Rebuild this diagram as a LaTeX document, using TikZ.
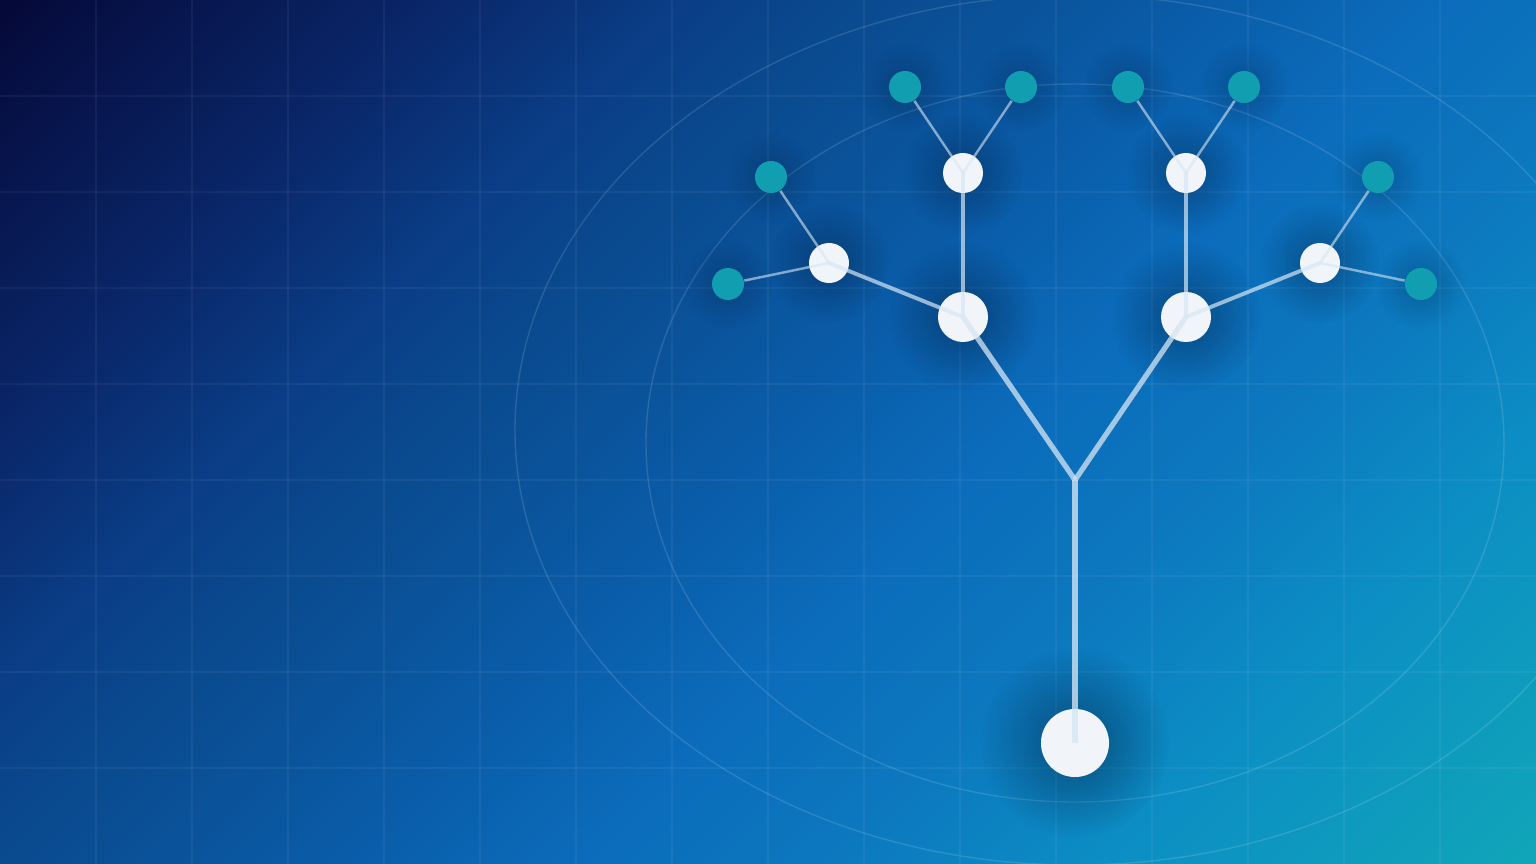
\documentclass[tikz,border=0pt]{standalone}
\usepackage{xcolor}
\usetikzlibrary{fadings,backgrounds}

\definecolor{bgnavy}{HTML}{050838}
\definecolor{bgink}{HTML}{0A2A6E}
\definecolor{bgdeep}{HTML}{0A3D85}
\definecolor{bgmarine}{HTML}{0A4A8E}
\definecolor{bgmid}{HTML}{0A5CA8}
\definecolor{bgblue}{HTML}{0B6CBB}
\definecolor{bgsky}{HTML}{0C77BE}
\definecolor{bgcyan}{HTML}{0C8EC4}
\definecolor{bgteal}{HTML}{10A6B8}
\definecolor{nodewhite}{HTML}{F1F4F8}
\definecolor{leafteal}{HTML}{109EB0}
\definecolor{branchline}{HTML}{D6E6F4}
\definecolor{haloink}{HTML}{031A3A}

% stops at 25bp + 50bp*t, the path fills 25bp..75bp
\pgfdeclarehorizontalshading{bgshade}{100bp}{color(0bp)=(bgnavy); color(25bp)=(bgnavy); color(35bp)=(bgink); color(39bp)=(bgdeep); color(43bp)=(bgmarine); color(50bp)=(bgmid); color(55bp)=(bgblue); color(60bp)=(bgsky); color(66bp)=(bgcyan); color(75bp)=(bgteal); color(100bp)=(bgteal)}

\tikzfading[name=halofade, inner color=transparent!0, outer color=transparent!100]

\tikzset{
  gridline/.style={white, opacity=0.05, line width=0.3pt},
  ring/.style={white, opacity=0.13, line width=0.4pt},
  halo/.style={fill=haloink, opacity=#1, path fading=halofade},
  rootnode/.style={circle, fill=nodewhite, inner sep=0pt, minimum size=0.68cm},
  hub/.style={circle, fill=nodewhite, inner sep=0pt, minimum size=0.5cm},
  twig/.style={circle, fill=nodewhite, inner sep=0pt, minimum size=0.4cm},
  leaf/.style={circle, fill=leafteal, inner sep=0pt, minimum size=0.32cm},
  stem/.style={branchline, opacity=0.78, line width=1.9pt},
  limb/.style={branchline, opacity=0.75, line width=1.5pt},
  sprig/.style={branchline, opacity=0.7, line width=1.1pt},
  tip/.style={branchline, opacity=0.6, line width=0.7pt}
}

\begin{document}
\begin{tikzpicture}[x=0.01cm, y=-0.01cm]
  \useasboundingbox (0,0) rectangle (1536,864);
  \begin{scope}[on background layer]
    \clip (0,0) rectangle (1536,864);
    \begin{scope}[transform canvas={rotate=-45}]
      \shade[shading=bgshade] (0,-1100) rectangle (1697,630);
    \end{scope}
    % grid
    \foreach \gx in {96,192,...,1440}
      \draw[gridline] (\gx,0) -- (\gx,864);
    \foreach \gy in {96,192,...,768}
      \draw[gridline] (0,\gy) -- (1536,\gy);
    % rings
    \draw[ring] (1075,430) ellipse [x radius=560, y radius=435];
    \draw[ring] (1075,443) ellipse [x radius=429, y radius=359];
  \end{scope}

  % nodes
  \node[rootnode] (root) at (1075,743) {};
  \coordinate (fork) at (1075,480);
  \node[hub] (hubL) at (963,317) {};
  \node[hub] (hubR) at (1186,317) {};
  \node[twig] (twigLT) at (963,173) {};
  \node[twig] (twigLS) at (829,263) {};
  \node[twig] (twigRT) at (1186,173) {};
  \node[twig] (twigRS) at (1320,263) {};
  \node[leaf] (leafA) at (905,87) {};
  \node[leaf] (leafB) at (1021,87) {};
  \node[leaf] (leafC) at (771,177) {};
  \node[leaf] (leafD) at (728,284) {};
  \node[leaf] (leafE) at (1128,87) {};
  \node[leaf] (leafF) at (1244,87) {};
  \node[leaf] (leafG) at (1378,177) {};
  \node[leaf] (leafH) at (1421,284) {};

  % soft dark halos behind the nodes
  \begin{scope}[on background layer]
    \fill[halo=0.5] (root) circle (0.95cm);
    \foreach \n in {hubL,hubR}
      \fill[halo=0.45] (\n) circle (0.75cm);
    \foreach \n in {twigLT,twigLS,twigRT,twigRS}
      \fill[halo=0.4] (\n) circle (0.6cm);
    \foreach \n in {leafA,leafB,leafC,leafD,leafE,leafF,leafG,leafH}
      \fill[halo=0.28] (\n) circle (0.45cm);
  \end{scope}

  % branches
  \draw[stem] (root.center) -- (fork);
  \draw[limb] (fork) -- (hubL.center);
  \draw[limb] (fork) -- (hubR.center);
  \draw[sprig] (hubL.center) -- (twigLT.center);
  \draw[sprig] (hubL.center) -- (twigLS.center);
  \draw[sprig] (hubR.center) -- (twigRT.center);
  \draw[sprig] (hubR.center) -- (twigRS.center);
  \draw[tip] (twigLT.center) -- (leafA);
  \draw[tip] (twigLT.center) -- (leafB);
  \draw[tip] (twigLS.center) -- (leafC);
  \draw[tip] (twigLS.center) -- (leafD);
  \draw[tip] (twigRT.center) -- (leafE);
  \draw[tip] (twigRT.center) -- (leafF);
  \draw[tip] (twigRS.center) -- (leafG);
  \draw[tip] (twigRS.center) -- (leafH);
\end{tikzpicture}
\end{document}
